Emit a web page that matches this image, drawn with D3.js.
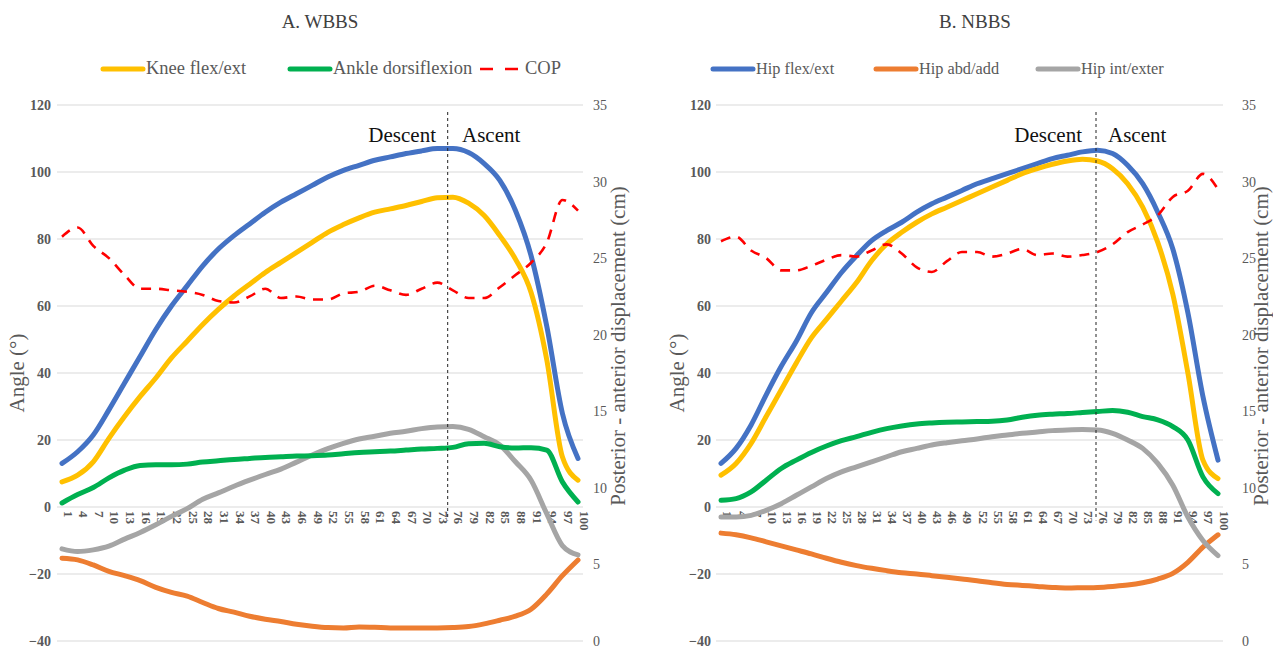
<!DOCTYPE html>
<html><head><meta charset="utf-8">
<script src="https://cdn.jsdelivr.net/npm/d3@7"></script>
<style>body{margin:0;background:#fff}svg{display:block}svg text{font-family:"Liberation Serif","Times New Roman",serif}</style>
</head><body><svg id="c" width="1273" height="650"></svg>
<script>
const cats = [1,4,7,10,13,16,19,22,25,28,31,34,37,40,43,46,49,52,55,58,61,64,67,70,73,76,79,82,85,88,91,94,97,100];
const angleTicks = [-40,-20,0,20,40,60,80,100,120];
const copTicks = [0,5,10,15,20,25,30,35];

// Panel A (WBBS)
const aHipFlex = [13,16.5,21.5,29,37,45,53,60,66,72,77,81,84.5,88,91,93.5,96,98.5,100.5,102,103.5,104.5,105.5,106.3,107,107,105.8,102.5,97.5,88.5,75,54,28,14.5];
const aHipAbd = [-15.3,-15.8,-17.3,-19.2,-20.5,-22,-24,-25.5,-26.6,-28.5,-30.3,-31.4,-32.6,-33.5,-34.2,-35,-35.6,-36,-36.1,-35.8,-35.9,-36.1,-36.1,-36.1,-36.1,-36,-35.7,-34.9,-33.8,-32.6,-30.5,-26,-20.5,-15.8];
const aHipRot = [-12.5,-13.3,-12.8,-11.7,-9.6,-7.6,-5.3,-2.8,-0.5,2.3,4.2,6.2,8,9.7,11.3,13.4,15.5,17.4,19,20.3,21.1,22,22.6,23.4,23.9,24,23.2,21,18.5,13.5,8,-2,-11.5,-14.3];
const aKnee = [7.5,9.5,13.5,20.5,27,33,38.5,44.5,49.5,54.5,59,63,66.5,70,73,76,79,82,84.3,86.3,88,89,90,91.2,92.3,92.5,90.7,87,81,74,64,44,15,8];
const aAnkle = [1.2,3.7,5.8,8.7,11,12.4,12.6,12.6,12.8,13.4,13.8,14.2,14.5,14.8,15,15.2,15.3,15.5,15.9,16.3,16.5,16.7,17,17.3,17.5,17.8,18.9,19,18,17.6,17.7,17,7.5,1.5];
const aCOP = [26.4,27,25.8,25,23.9,23,23,22.9,22.8,22.6,22.2,22.1,22.5,23,22.4,22.5,22.3,22.3,22.7,22.8,23.2,22.9,22.6,23,23.4,22.9,22.4,22.4,23.1,23.9,24.7,26,28.8,28.1];

// Panel B (NBBS)
const bHipFlex = [13,17.5,24.5,33.5,42,49.5,58,64,70,75,79.5,82.5,85,88,90.5,92.5,94.5,96.5,98,99.5,101,102.5,104,105,106,106.5,105.5,102,96.5,88,77,58,33,14];
const bHipAbd = [-7.8,-8.3,-9.2,-10.4,-11.6,-12.8,-14,-15.3,-16.5,-17.5,-18.3,-19,-19.6,-20,-20.5,-21,-21.5,-22,-22.6,-23.1,-23.4,-23.7,-24,-24.2,-24.1,-24,-23.7,-23.3,-22.6,-21.5,-19.8,-16.5,-12,-8.3];
const bHipRot = [-3,-3,-2.5,-1,1,3.5,6,8.5,10.5,12,13.5,15,16.5,17.5,18.5,19.2,19.8,20.3,21,21.5,22,22.4,22.8,23,23.1,23,22,20,17.5,13,6.5,-3,-10,-14.5];
const bKnee = [9.5,13,19,27,35,43,50.5,56,61.5,67,73.5,78.5,82,85,87.5,89.5,91.5,93.5,95.5,97.5,99.5,101,102.3,103.3,103.8,103.3,101,96.5,89.5,79,63.5,40,14,8.5];
const bAnkle = [2,2.5,4.5,8,11.5,14,16.3,18.2,19.8,21,22.3,23.4,24.2,24.8,25.1,25.3,25.4,25.5,25.6,26,26.8,27.4,27.7,27.9,28.2,28.5,28.8,28.3,27,26,24,20,9,4];
const bCOP = [26.1,26.4,25.5,25,24.2,24.2,24.5,24.9,25.2,25.1,25.5,25.9,25.3,24.4,24.1,24.8,25.4,25.4,25.1,25.3,25.6,25.2,25.3,25.1,25.2,25.4,25.9,26.7,27.2,27.8,29,29.4,30.5,29.5];

const seriesNames = ["Hip flex/ext","Hip abd/add","Hip int/exter","Knee flex/ext","Ankle dorsiflexion","COP"];
const colors = {"Hip flex/ext":"#4472C4","Hip abd/add":"#ED7D31","Hip int/exter":"#A5A5A5","Knee flex/ext":"#FFC000","Ankle dorsiflexion":"#00B050","COP":"#FF0000"};

const svg = d3.select("#c");
const serif = '"Liberation Serif","Times New Roman",serif';

const panels = [
  {title:"A. WBBS", cx:320, x0:62, x1:578, g0:57, g1:583, phase:75, data:[aHipFlex,aHipAbd,aHipRot,aKnee,aAnkle], cop:aCOP,
   leftLab:51, rightLab:593, leftTitle:19, rightTitle:620, descentX:436, ascentX:462, legendSize:18.5,
   legend:[["Knee flex/ext",103],["Ankle dorsiflexion",290],["COP",480]]},
  {title:"B. NBBS", cx:975, x0:721, x1:1218, g0:716, g1:1223, phase:75.7, data:[bHipFlex,bHipAbd,bHipRot,bKnee,bAnkle], cop:bCOP,
   leftLab:711, rightLab:1242, leftTitle:679, rightTitle:1263, descentX:1082, ascentX:1108, legendSize:16.3,
   legend:[["Hip flex/ext",713],["Hip abd/add",876],["Hip int/exter",1038]]}
];

const y = d3.scaleLinear().domain([-40,120]).range([641,105]);
const y2 = d3.scaleLinear().domain([0,35]).range([641,105]);

function txt(sel, size, fill, weight){
  return sel.style("font-family",serif).style("font-size",size+"px").style("font-weight",weight||"normal").attr("fill",fill);
}

panels.forEach(p => {
  const x = d3.scaleLinear().domain([1,100]).range([p.x0,p.x1]);
  const g = svg.append("g");
  txt(g.append("text").attr("x",p.cx).attr("y",28).attr("text-anchor","middle"),19,"#404040").text(p.title);
  g.selectAll("line.grid").data(angleTicks).join("line").attr("class","grid")
    .attr("x1",p.g0).attr("x2",p.g1).attr("y1",d=>y(d)).attr("y2",d=>y(d))
    .attr("stroke","#D9D9D9").attr("stroke-width",1);
  const la = g.append("g").attr("transform",`translate(${p.leftLab},0)`)
    .call(d3.axisLeft(y).tickValues(angleTicks).tickSize(0).tickPadding(0));
  la.attr("font-family",null).attr("font-size",null);
  la.select(".domain").remove();
  txt(la.selectAll("text"),14,"#595959","bold");
  const ra = g.append("g").attr("transform",`translate(${p.rightLab},0)`)
    .call(d3.axisRight(y2).tickValues(copTicks).tickSize(0).tickPadding(0));
  ra.attr("font-family",null).attr("font-size",null);
  ra.select(".domain").remove();
  txt(ra.selectAll("text"),14,"#595959");
  const xa = g.append("g").attr("transform",`translate(0,${y(0)})`)
    .call(d3.axisBottom(x).tickValues(cats).tickSize(0).tickPadding(0));
  xa.attr("font-family",null).attr("font-size",null);
  xa.select(".domain").remove();
  txt(xa.selectAll("text"),13,"#595959","bold")
    .attr("text-anchor","start").attr("dy",null).attr("y",0)
    .attr("transform","translate(4,4) rotate(90)").attr("dominant-baseline","middle");
  txt(g.append("text").attr("transform",`translate(${p.leftTitle},373) rotate(-90)`).attr("text-anchor","middle")
    .attr("dominant-baseline","middle"),21,"#595959").text("Angle (°)");
  txt(g.append("text").attr("transform",`translate(${p.rightTitle},346) rotate(-90)`).attr("text-anchor","middle")
    .attr("dominant-baseline","middle"),21,"#595959").text("Posterior - anterior displacement (cm)");
  const line = d3.line().x((d,i)=>x(cats[i])).y(d=>y(d)).curve(d3.curveMonotoneX);
  p.data.forEach((arr,k) => {
    g.append("path").datum(arr).attr("d",line).attr("fill","none")
      .attr("stroke",colors[seriesNames[k]]).attr("stroke-width",5).attr("stroke-linecap","round").attr("stroke-linejoin","round");
  });
  const cline = d3.line().x((d,i)=>x(cats[i])).y(d=>y2(d)).curve(d3.curveMonotoneX);
  g.append("path").datum(p.cop).attr("d",cline).attr("fill","none").attr("stroke",colors.COP)
    .attr("stroke-width",2.6).attr("stroke-dasharray","10,8");
  g.append("line").attr("x1",x(p.phase)).attr("x2",x(p.phase)).attr("y1",112).attr("y2",y(-4))
    .attr("stroke","#222").attr("stroke-width",1).attr("stroke-dasharray","3,3");
  txt(g.append("text").attr("x",p.descentX).attr("y",142).attr("text-anchor","end"),21,"#111").text("Descent");
  txt(g.append("text").attr("x",p.ascentX).attr("y",142).attr("text-anchor","start"),21,"#111").text("Ascent");
  p.legend.forEach(([name,lx]) => {
    const isCop = name === "COP";
    if (isCop) {
      g.append("line").attr("x1",lx).attr("x2",lx+38).attr("y1",69).attr("y2",69)
        .attr("stroke",colors.COP).attr("stroke-width",2.6).attr("stroke-dasharray","13,12");
    } else {
      g.append("line").attr("x1",lx).attr("x2",lx+40).attr("y1",69).attr("y2",69)
        .attr("stroke",colors[name]).attr("stroke-width",5).attr("stroke-linecap","round");
    }
    txt(g.append("text").attr("x",lx+(isCop?45:43)).attr("y",70).attr("dominant-baseline","middle"),p.legendSize,"#595959").text(name);
  });
});
</script></body></html>
